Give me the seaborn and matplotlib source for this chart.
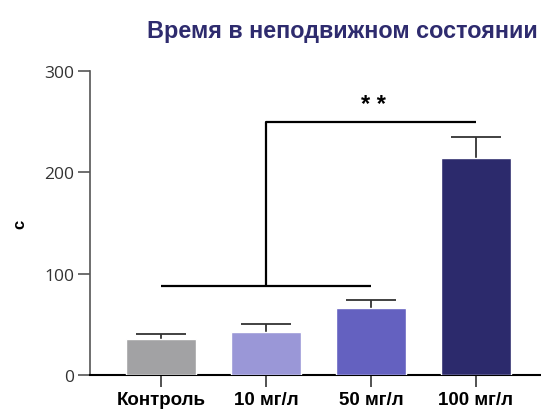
import matplotlib
matplotlib.use("Agg")
import matplotlib.pyplot as plt
import seaborn as sns
import pandas as pd
import numpy as np

groups = ["Контроль", "10 мг/л", "50 мг/л", "100 мг/л"]
mean_time = [35.5, 42.5, 66, 214]
sem_time = [5, 8, 8, 21]
bar_colors = ["#a2a2a4", "#9a97d7", "#6461c0", "#2c2a6c"]
y_ticks = [0, 100, 200, 300]
title = "Время в неподвижном состоянии"
y_label = "с"
significance = "* *"

sns.set_theme(style="white")
plt.rcParams["font.family"] = ["Open Sans", "DejaVu Sans"]
bold_family = ["Liberation Sans", "DejaVu Sans"]

df = pd.DataFrame({"group": groups, "time": mean_time})

fig = plt.figure(figsize=(5.41, 4.14), dpi=100)
ax = fig.add_axes([0.1664, 0.0918, 0.8336, 0.7343])

sns.barplot(data=df, x="group", y="time", hue="group", palette=bar_colors,
            legend=False, width=0.667, ax=ax, saturation=1, zorder=3)

# upper half of the error bars only
x = np.arange(len(groups))
tops = np.array(mean_time) + np.array(sem_time)
ax.vlines(x, mean_time, tops, color="#333333", lw=1.3, zorder=2)
ax.hlines(tops, x - 0.24, x + 0.24, color="#333333", lw=1.3, zorder=2)

# comparison bracket: control..50 mg/l pooled vs 100 mg/l
y_low, y_high = 88, 250
ax.plot([x[0], x[2]], [y_low, y_low], color="black", lw=1.6, zorder=4,
        solid_capstyle="butt")
ax.plot([x[1], x[1], x[3]], [y_low, y_high, y_high], color="black", lw=1.6,
        zorder=4, solid_capstyle="butt")
ax.text((x[1] + x[3]) / 2 + 0.02, y_high + 6, significance, ha="center",
        va="bottom", fontsize=17, fontweight="bold", color="black",
        family=bold_family)

ax.set_ylim(0, 300)
ax.set_xlim(-0.676, 3.62)
ax.set_yticks(y_ticks)
ax.set_xlabel("")
ax.set_ylabel(y_label, fontsize=12, fontweight="bold", labelpad=12, color="black",
              family=bold_family)

for side in ["top", "right"]:
    ax.spines[side].set_visible(False)
ax.spines["left"].set_color("#555555")
ax.spines["left"].set_linewidth(1.2)
ax.spines["bottom"].set_color("black")
ax.spines["bottom"].set_linewidth(1.5)

ax.tick_params(axis="y", direction="out", length=8.5, width=1.2, color="#555555",
               labelsize=12.5, labelcolor="#333333", left=True, pad=3)
ax.tick_params(axis="x", direction="out", length=8.5, width=1.2, color="#333333",
               labelsize=13.5, labelcolor="black", bottom=True, pad=3)
for lbl in ax.get_xticklabels():
    lbl.set_fontweight("bold")
    lbl.set_family(bold_family)

fig.text(0.994, 0.925, title, ha="right", va="center", fontsize=16.8,
         fontweight="bold", color="#2e2b6e", family=bold_family)

fig.savefig("out.png", dpi=100)
